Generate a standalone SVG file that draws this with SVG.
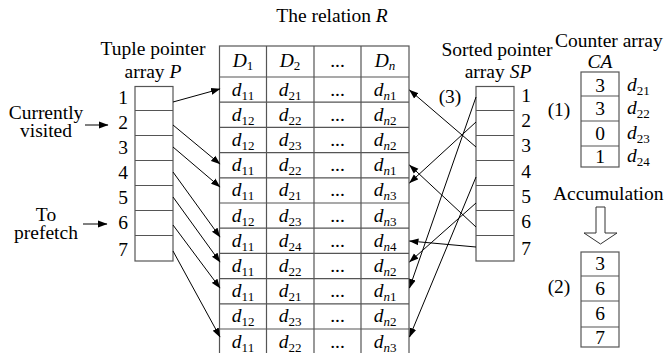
<svg xmlns="http://www.w3.org/2000/svg" width="664" height="353" viewBox="0 0 664 353">
<style>
text{font-family:"Liberation Serif","Times New Roman",serif;font-size:19.5px;fill:#000}
.m{text-anchor:middle}
.i{font-style:italic}
.s{font-size:13px}
.box{fill:#fff;stroke:#555;stroke-width:1.2}
.ln{stroke:#555;stroke-width:1.2;fill:none}
.c{stroke:#000;stroke-width:1;fill:none;marker-end:url(#ah)}
</style>
<defs>
<marker id="ah" markerWidth="10" markerHeight="8" refX="9" refY="4" orient="auto" markerUnits="userSpaceOnUse">
<path d="M0,0.6 L9.5,4 L0,7.4 z" fill="#000"/>
</marker>
</defs>
<rect width="664" height="353" fill="#fff"/>

<g id="title">
<text x="332" y="21.5" class="m">The relation <tspan class="i">R</tspan></text>
</g>

<g id="relationR">
<rect class="box" x="219.5" y="46" width="189.5" height="308"/>
<path class="ln" d="M266.5,46V354M314,46V354M361,46V354M219.5,77H409M219.5,102.2H409M219.5,127.4H409M219.5,152.6H409M219.5,177.8H409M219.5,203H409M219.5,228.2H409M219.5,253.4H409M219.5,278.6H409M219.5,303.8H409M219.5,329H409"/>
<text x="243" y="67" class="m"><tspan class="i">D</tspan><tspan class="s" dy="3">1</tspan></text>
<text x="290" y="67" class="m"><tspan class="i">D</tspan><tspan class="s" dy="3">2</tspan></text>
<text x="337.5" y="67" class="m">...</text>
<text x="385" y="67" class="m"><tspan class="i">D</tspan><tspan class="s i" dy="3">n</tspan></text>
<g id="rows">
<text x="243" y="95.5" class="m"><tspan class="i">d</tspan><tspan class="s" dy="4">11</tspan></text>
<text x="290" y="95.5" class="m"><tspan class="i">d</tspan><tspan class="s" dy="4">21</tspan></text>
<text x="337.5" y="95.5" class="m">...</text>
<text x="385" y="95.5" class="m"><tspan class="i">d</tspan><tspan class="s" dy="4"><tspan class="i">n</tspan>1</tspan></text>

<text x="243" y="120.7" class="m"><tspan class="i">d</tspan><tspan class="s" dy="4">12</tspan></text>
<text x="290" y="120.7" class="m"><tspan class="i">d</tspan><tspan class="s" dy="4">22</tspan></text>
<text x="337.5" y="120.7" class="m">...</text>
<text x="385" y="120.7" class="m"><tspan class="i">d</tspan><tspan class="s" dy="4"><tspan class="i">n</tspan>2</tspan></text>

<text x="243" y="145.9" class="m"><tspan class="i">d</tspan><tspan class="s" dy="4">12</tspan></text>
<text x="290" y="145.9" class="m"><tspan class="i">d</tspan><tspan class="s" dy="4">23</tspan></text>
<text x="337.5" y="145.9" class="m">...</text>
<text x="385" y="145.9" class="m"><tspan class="i">d</tspan><tspan class="s" dy="4"><tspan class="i">n</tspan>2</tspan></text>

<text x="243" y="171.1" class="m"><tspan class="i">d</tspan><tspan class="s" dy="4">11</tspan></text>
<text x="290" y="171.1" class="m"><tspan class="i">d</tspan><tspan class="s" dy="4">22</tspan></text>
<text x="337.5" y="171.1" class="m">...</text>
<text x="385" y="171.1" class="m"><tspan class="i">d</tspan><tspan class="s" dy="4"><tspan class="i">n</tspan>1</tspan></text>

<text x="243" y="196.3" class="m"><tspan class="i">d</tspan><tspan class="s" dy="4">11</tspan></text>
<text x="290" y="196.3" class="m"><tspan class="i">d</tspan><tspan class="s" dy="4">21</tspan></text>
<text x="337.5" y="196.3" class="m">...</text>
<text x="385" y="196.3" class="m"><tspan class="i">d</tspan><tspan class="s" dy="4"><tspan class="i">n</tspan>3</tspan></text>

<text x="243" y="221.5" class="m"><tspan class="i">d</tspan><tspan class="s" dy="4">12</tspan></text>
<text x="290" y="221.5" class="m"><tspan class="i">d</tspan><tspan class="s" dy="4">23</tspan></text>
<text x="337.5" y="221.5" class="m">...</text>
<text x="385" y="221.5" class="m"><tspan class="i">d</tspan><tspan class="s" dy="4"><tspan class="i">n</tspan>3</tspan></text>

<text x="243" y="246.7" class="m"><tspan class="i">d</tspan><tspan class="s" dy="4">11</tspan></text>
<text x="290" y="246.7" class="m"><tspan class="i">d</tspan><tspan class="s" dy="4">24</tspan></text>
<text x="337.5" y="246.7" class="m">...</text>
<text x="385" y="246.7" class="m"><tspan class="i">d</tspan><tspan class="s" dy="4"><tspan class="i">n</tspan>4</tspan></text>

<text x="243" y="271.9" class="m"><tspan class="i">d</tspan><tspan class="s" dy="4">11</tspan></text>
<text x="290" y="271.9" class="m"><tspan class="i">d</tspan><tspan class="s" dy="4">22</tspan></text>
<text x="337.5" y="271.9" class="m">...</text>
<text x="385" y="271.9" class="m"><tspan class="i">d</tspan><tspan class="s" dy="4"><tspan class="i">n</tspan>2</tspan></text>

<text x="243" y="297.1" class="m"><tspan class="i">d</tspan><tspan class="s" dy="4">11</tspan></text>
<text x="290" y="297.1" class="m"><tspan class="i">d</tspan><tspan class="s" dy="4">21</tspan></text>
<text x="337.5" y="297.1" class="m">...</text>
<text x="385" y="297.1" class="m"><tspan class="i">d</tspan><tspan class="s" dy="4"><tspan class="i">n</tspan>1</tspan></text>

<text x="243" y="322.3" class="m"><tspan class="i">d</tspan><tspan class="s" dy="4">12</tspan></text>
<text x="290" y="322.3" class="m"><tspan class="i">d</tspan><tspan class="s" dy="4">23</tspan></text>
<text x="337.5" y="322.3" class="m">...</text>
<text x="385" y="322.3" class="m"><tspan class="i">d</tspan><tspan class="s" dy="4"><tspan class="i">n</tspan>2</tspan></text>

<text x="243" y="347.5" class="m"><tspan class="i">d</tspan><tspan class="s" dy="4">11</tspan></text>
<text x="290" y="347.5" class="m"><tspan class="i">d</tspan><tspan class="s" dy="4">22</tspan></text>
<text x="337.5" y="347.5" class="m">...</text>
<text x="385" y="347.5" class="m"><tspan class="i">d</tspan><tspan class="s" dy="4"><tspan class="i">n</tspan>3</tspan></text>
</g>
</g>

<g id="arrayP">
<text x="153" y="54.5" class="m">Tuple pointer</text>
<text x="153" y="78" class="m">array <tspan class="i">P</tspan></text>
<rect class="box" x="135" y="86.5" width="38" height="174.5"/>
<path class="ln" d="M135,110.5H173M135,135.5H173M135,160.5H173M135,185.5H173M135,210.5H173M135,235.5H173"/>
<text x="123" y="104" class="m">1</text>
<text x="123" y="129" class="m">2</text>
<text x="123" y="154" class="m">3</text>
<text x="123" y="179" class="m">4</text>
<text x="123" y="204" class="m">5</text>
<text x="123" y="229" class="m">6</text>
<text x="123" y="256" class="m">7</text>
</g>

<g id="currentlyVisited">
<text x="46" y="119" class="m">Currently</text>
<text x="46" y="137" class="m">visited</text>
</g>
<g id="toPrefetch">
<text x="46" y="220.5" class="m">To</text>
<text x="46" y="238.5" class="m">prefetch</text>
</g>

<g id="arraySP">
<text x="497" y="56" class="m">Sorted pointer</text>
<text x="498" y="78" class="m">array <tspan class="i">SP</tspan></text>
<text x="450" y="103" class="m">(3)</text>
<rect class="box" x="476" y="86.5" width="38" height="174.5"/>
<path class="ln" d="M476,110.5H514M476,135.5H514M476,160.5H514M476,185.5H514M476,210.5H514M476,235.5H514"/>
<text x="526" y="102" class="m">1</text>
<text x="526" y="127" class="m">2</text>
<text x="526" y="152" class="m">3</text>
<text x="526" y="178" class="m">4</text>
<text x="526" y="203" class="m">5</text>
<text x="526" y="228" class="m">6</text>
<text x="526" y="255" class="m">7</text>
</g>

<g id="counterArray">
<text x="555" y="46.5">Counter array</text>
<text x="600" y="68" class="m i">CA</text>
<text x="559" y="116" class="m">(1)</text>
<rect class="box" x="581" y="72" width="38" height="95"/>
<path class="ln" d="M581,96H619M581,121H619M581,146H619"/>
<text x="600" y="92" class="m">3</text>
<text x="600" y="115" class="m">3</text>
<text x="600" y="140" class="m">0</text>
<text x="600" y="163" class="m">1</text>
<text x="627" y="91"><tspan class="i">d</tspan><tspan class="s" dy="4">21</tspan></text>
<text x="627" y="114"><tspan class="i">d</tspan><tspan class="s" dy="4">22</tspan></text>
<text x="627" y="139"><tspan class="i">d</tspan><tspan class="s" dy="4">23</tspan></text>
<text x="627" y="162"><tspan class="i">d</tspan><tspan class="s" dy="4">24</tspan></text>
</g>

<g id="accumulation">
<text x="553" y="199.5">Accumulation</text>
<polygon points="596,207 605,207 605,233 617,233 600.5,244 584,233 596,233" fill="#fff" stroke="#333" stroke-width="1"/>
</g>

<g id="accumulatedArray">
<text x="559" y="293" class="m">(2)</text>
<rect class="box" x="581" y="252" width="38" height="95"/>
<path class="ln" d="M581,276H619M581,301H619M581,327H619"/>
<text x="600" y="270" class="m">3</text>
<text x="600" y="295" class="m">6</text>
<text x="600" y="320" class="m">6</text>
<text x="600" y="344" class="m">7</text>
</g>

<g id="connectors">
<path class="c" d="M85,125H108"/>
<path class="c" d="M83,224H107"/>
<path class="c" d="M173,102L220,89"/>
<path class="c" d="M173,125L220,164"/>
<path class="c" d="M173,147L220,187"/>
<path class="c" d="M173,172L220,237"/>
<path class="c" d="M173,197L220,262"/>
<path class="c" d="M173,225L220,288"/>
<path class="c" d="M173,251L220,337"/>
<path class="c" d="M476,97L409.5,288"/>
<path class="c" d="M476,122L409.5,183"/>
<path class="c" d="M476,147L409.5,90"/>
<path class="c" d="M476,177L409.5,337"/>
<path class="c" d="M476,203L409.5,262"/>
<path class="c" d="M476,227L409.5,165"/>
<path class="c" d="M476,247L409.5,241"/>
</g>
</svg>
